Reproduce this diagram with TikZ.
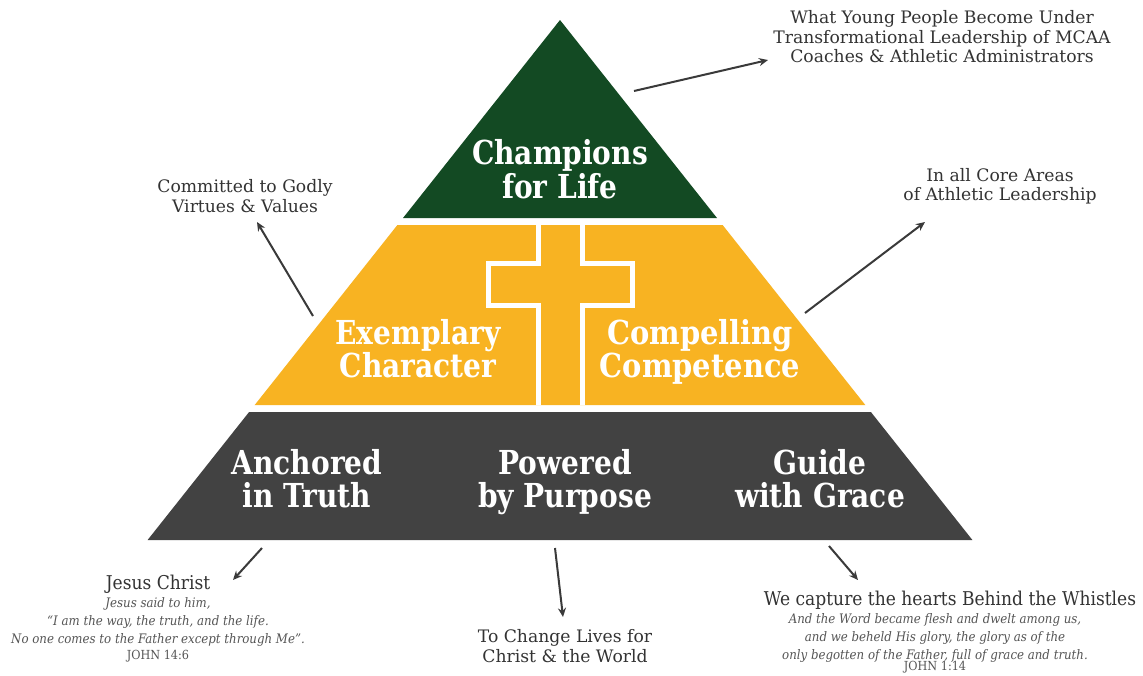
\documentclass[tikz,border=0pt]{standalone}
\usepackage{fontspec}
\setmainfont{DejaVu Serif}
\newfontfamily\headfont[FakeStretch=0.85]{DejaVu Serif}
\newfontfamily\notefont[FakeStretch=0.9]{DejaVu Serif}
\newfontfamily\plainfont{DejaVu Serif}
\usetikzlibrary{arrows.meta}
\definecolor{pgreen}{HTML}{134A23}
\definecolor{pyellow}{HTML}{F8B322}
\definecolor{pdark}{HTML}{424242}
\definecolor{arrc}{HTML}{3A3A3A}
\definecolor{txt}{HTML}{333333}
\definecolor{vtxt}{HTML}{555555}
\begin{document}
\begin{tikzpicture}[x=1pt,y=-1pt,
  tier/.style={text=white, align=center, inner sep=0pt, font=\headfont\bfseries\fontsize{33}{34}\selectfont},
  tiermid/.style={tier, font=\headfont\bfseries\fontsize{33}{29}\selectfont},
  tierlow/.style={tier, font=\headfont\bfseries\fontsize{33}{33}\selectfont},
  note/.style={text=txt, align=center, inner sep=0pt, font=\plainfont\fontsize{17.2}{19.5}\selectfont},
  notetitle/.style={text=txt, align=center, inner sep=0pt, font=\notefont\fontsize{19}{21}\selectfont},
  verse/.style={text=vtxt, align=center, inner sep=0pt, font=\notefont\itshape\fontsize{13.1}{18}\selectfont},
  ref/.style={text=vtxt, align=center, inner sep=0pt, font=\notefont\fontsize{12.5}{13}\selectfont},
  arr/.style={draw=arrc, line width=2, -{Stealth[length=9,width=8]}}
]
\useasboundingbox[fill=white] (0,0) rectangle (1143,675);
% pyramid tiers
\fill[pgreen] (560,20) -- (717,218) -- (403,218) -- cycle;
\fill[pyellow] (397.4,225) -- (722.6,225) -- (865.3,405) -- (254.7,405) -- cycle;
\fill[pdark] (249.1,412) -- (870.9,412) -- (972.4,540) -- (147.6,540) -- cycle;
% cross outline
\begin{scope}
\clip (397.4,225) -- (722.6,225) -- (865.3,405) -- (254.7,405) -- cycle;
\draw[white, line width=5] (538,220) -- (538,263) -- (488,263) -- (488,305) -- (538,305) -- (538,410);
\draw[white, line width=5] (582,220) -- (582,263) -- (632,263) -- (632,305) -- (582,305) -- (582,410);
\end{scope}
% tier labels
\node[tier] (champ) at (560,169) {Champions\\for Life};
\node[tiermid] (exemp) at (418,348.5) {Exemplary\\Character};
\node[tiermid, xscale=1.03] (compel) at (700,352) {Compelling\\Competence};
\node[tierlow] (anch) at (307,479) {Anchored\\in Truth};
\node[tierlow] (powr) at (565,482) {Powered\\by Purpose};
\node[tierlow] (guide) at (820,479) {Guide\\with Grace};
% annotations
\node[note] (young) at (942,37) {What Young People Become Under\\Transformational Leadership of MCAA\\Coaches \& Athletic Administrators};
\node[note] (godly) at (245,196) {Committed to Godly\\Virtues \& Values};
\node[note] (core) at (1000,186) {In all Core Areas\\of Athletic Leadership};
\node[notetitle] (jc) at (158,584) {Jesus Christ};
\node[verse] (jcv) at (158,621.5) {Jesus said to him,\\“I am the way, the truth, and the life.\\No one comes to the Father except through Me”.};
\node[ref] (jcr) at (158,656) {JOHN 14:6};
\node[note] (change) at (565,646) {To Change Lives for\\Christ \& the World};
\node[notetitle] (whis) at (950,600) {We capture the hearts Behind the Whistles};
\node[verse] (whv) at (935,637.5) {And the Word became flesh and dwelt among us,\\and we beheld His glory, the glory as of the\\only begotten of the Father, full of grace and truth.};
\node[ref] (whr) at (935,667) {JOHN 1:14};
% arrows
\coordinate (a1s) at (634,91);   \coordinate (a1e) at (768,60);
\coordinate (a2s) at (313,316);  \coordinate (a2e) at (257,222);
\coordinate (a3s) at (805,313);  \coordinate (a3e) at (925,222);
\coordinate (a4s) at (262,548);  \coordinate (a4e) at (233,580);
\coordinate (a5s) at (555,548);  \coordinate (a5e) at (563,617);
\coordinate (a6s) at (829,546);  \coordinate (a6e) at (858,580);
\draw[arr] (a1s) -- (a1e);
\draw[arr] (a2s) -- (a2e);
\draw[arr] (a3s) -- (a3e);
\draw[arr] (a4s) -- (a4e);
\draw[arr] (a5s) -- (a5e);
\draw[arr] (a6s) -- (a6e);
\end{tikzpicture}
\end{document}
